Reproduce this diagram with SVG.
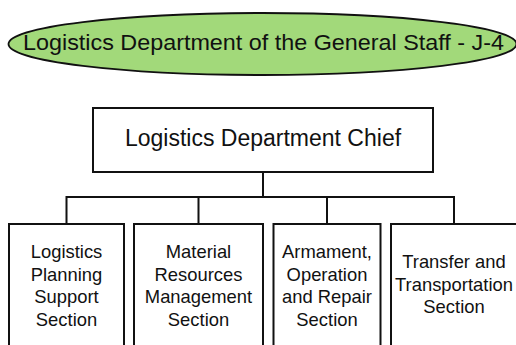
<svg xmlns="http://www.w3.org/2000/svg" width="516" height="345" viewBox="0 0 516 345">
<style>
text{font-family:"Liberation Sans",Arial,sans-serif;fill:#111;text-anchor:middle}
.t{font-size:22.5px}
.c{font-size:23px}
.s{font-size:18.4px}
.box{fill:#fff;stroke:#111;stroke-width:2}
.ln{fill:none;stroke:#111;stroke-width:2}
</style>
<rect width="516" height="345" fill="#fff"/>
<g id="j4">
<ellipse cx="262.5" cy="44" rx="254" ry="31" fill="#a2d97a" stroke="#111" stroke-width="1.8"/>
<text class="t" x="263.5" y="50" textLength="481" lengthAdjust="spacingAndGlyphs">Logistics Department of the General Staff - J-4</text>
</g>
<g id="connectors">
<path class="ln" d="M263,172V197M66.5,224V197H454V224M198.5,197V224M327,197V224"/>
</g>
<g id="chief">
<rect class="box" x="93" y="108" width="340" height="64"/>
<text class="c" x="263" y="145.5">Logistics Department Chief</text>
</g>
<g id="planning">
<rect class="box" x="9" y="224" width="115" height="130"/>
<text class="s" x="66.5" y="258">Logistics</text>
<text class="s" x="66.5" y="280.5">Planning</text>
<text class="s" x="66.5" y="303">Support</text>
<text class="s" x="66.5" y="325.5">Section</text>
</g>
<g id="material">
<rect class="box" x="134" y="224" width="129" height="130"/>
<text class="s" x="198.5" y="258">Material</text>
<text class="s" x="198.5" y="280.5">Resources</text>
<text class="s" x="198.5" y="303">Management</text>
<text class="s" x="198.5" y="325.5">Section</text>
</g>
<g id="armament">
<rect class="box" x="273.5" y="224" width="107" height="130"/>
<text class="s" x="327" y="258">Armament,</text>
<text class="s" x="327" y="280.5">Operation</text>
<text class="s" x="327" y="303">and Repair</text>
<text class="s" x="327" y="325.5">Section</text>
</g>
<g id="transfer">
<rect class="box" x="391" y="224" width="128" height="130"/>
<text class="s" x="454" y="268">Transfer and</text>
<text class="s" x="454" y="291">Transportation</text>
<text class="s" x="454" y="313">Section</text>
</g>
</svg>
